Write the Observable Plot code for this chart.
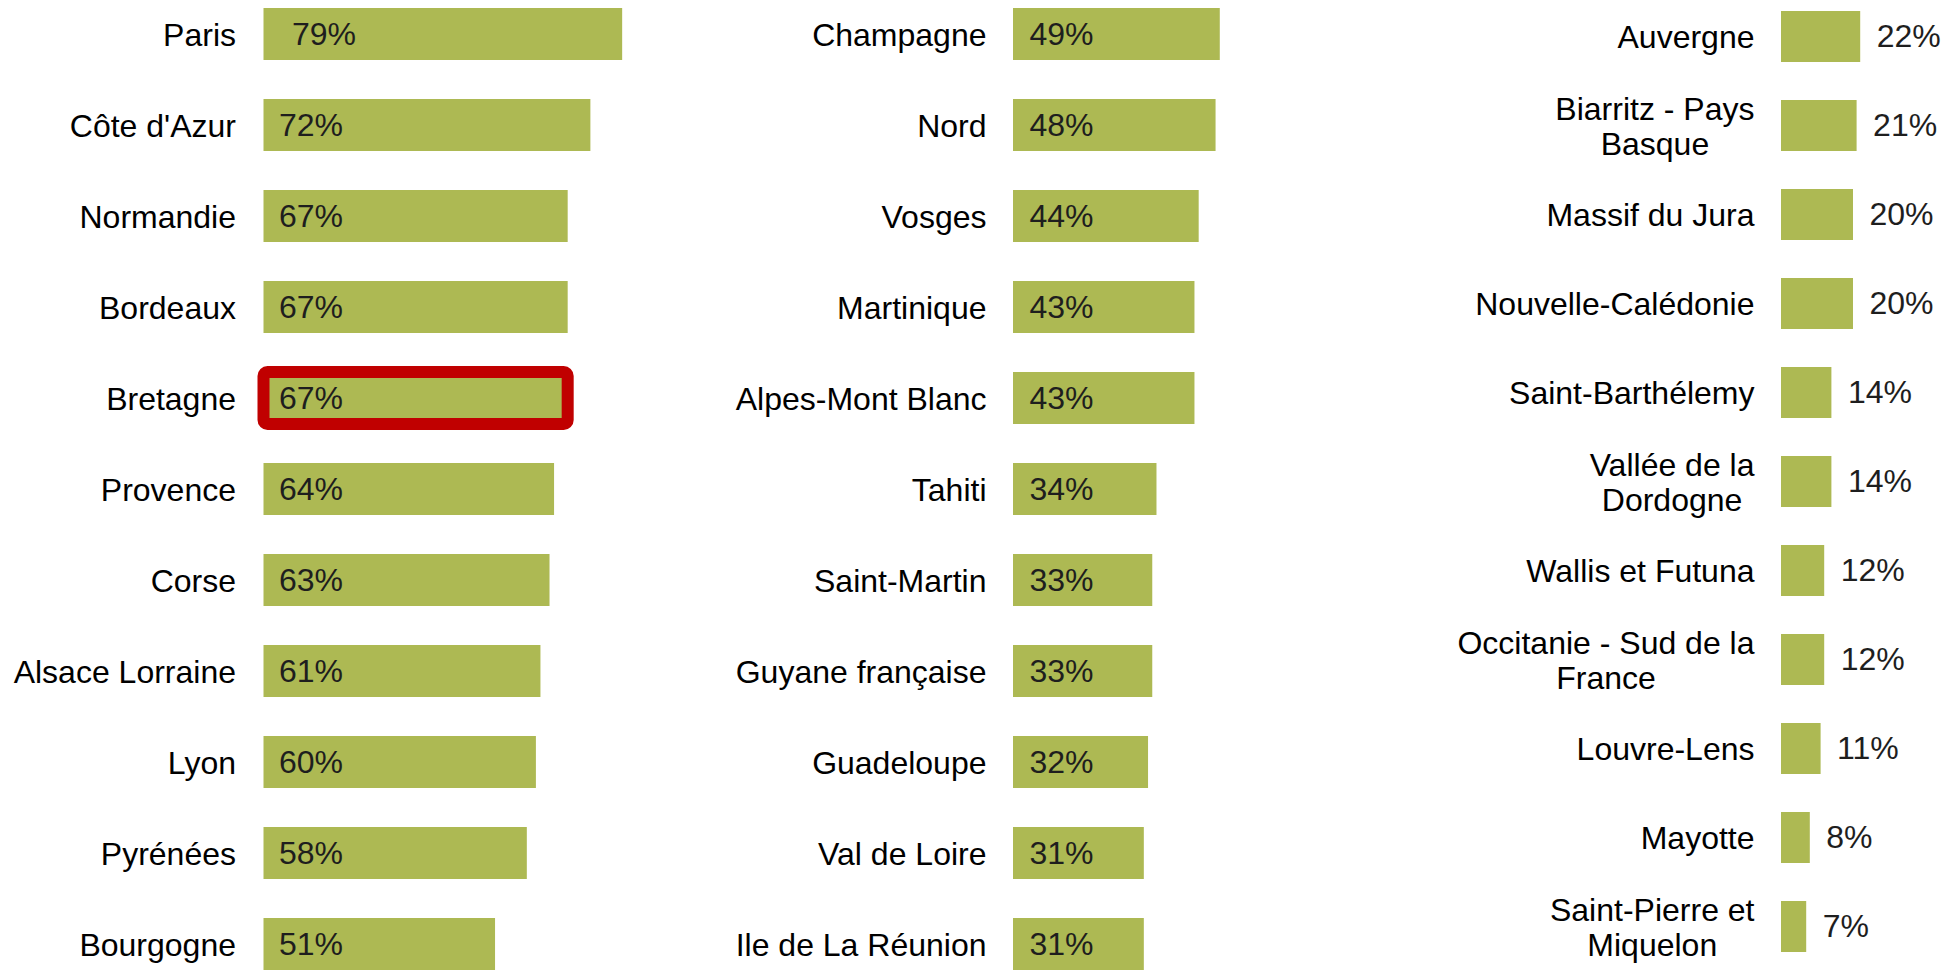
<!DOCTYPE html>
<html>
<head>
<meta charset="utf-8">
<script src="https://cdn.jsdelivr.net/npm/d3@7"></script>
<script src="https://cdn.jsdelivr.net/npm/@observablehq/plot@0.6"></script>
<style>
html, body { margin: 0; padding: 0; background: #fff; }
#chart { position: relative; width: 1949px; height: 971px; overflow: hidden; }
#chart svg { position: absolute; left: 0; top: 0; }
</style>
</head>
<body>
<div id="chart"></div>
<script>
// ---- data ----
const col1Names = ["Paris", "Côte d'Azur", "Normandie", "Bordeaux", "Bretagne", "Provence", "Corse", "Alsace Lorraine", "Lyon", "Pyrénées", "Bourgogne"];
const col1Values = [79, 72, 67, 67, 67, 64, 63, 61, 60, 58, 51];

const col2Names = ["Champagne", "Nord", "Vosges", "Martinique", "Alpes-Mont Blanc", "Tahiti", "Saint-Martin", "Guyane française", "Guadeloupe", "Val de Loire", "Ile de La Réunion"];
const col2Values = [49, 48, 44, 43, 43, 34, 33, 33, 32, 31, 31];

const col3Names = ["Auvergne", "Biarritz - Pays\nBasque", "Massif du Jura", "Nouvelle-Calédonie", "Saint-Barthélemy", "Vallée de la\nDordogne", "Wallis et Futuna", "Occitanie - Sud de la\nFrance", "Louvre-Lens", "Mayotte", "Saint-Pierre et\nMiquelon"];
const col3Values = [22, 21, 20, 20, 14, 14, 12, 12, 11, 8, 7];

const highlighted = "Bretagne";
const shiftedLabel = "Paris";

// ---- style ----
const BAR = "#adb953";
const RED = "#c00000";
const FONT = "'Liberation Sans', Arial, Helvetica, sans-serif";
const container = document.getElementById("chart");

function column({names, values, x0, k, yTop, step, inside, labelGap, valueGap}) {
  const data = names.map((name, i) => ({name, value: values[i]}));
  const pad = 0.43;
  const n = names.length;
  const y0 = yTop - pad * step;
  const marks = [
    Plot.barX(data, {x: "value", y: "name", fill: BAR}),
    Plot.barX(data.filter(d => d.name === highlighted), {
      x: "value", y: "name", fill: "none", stroke: RED, strokeWidth: 12, rx: 4
    }),
    Plot.text(data, {
      x: 0, y: "name", text: "name", textAnchor: "end", dx: -labelGap,
      fill: "#000", fontSize: 32, lineHeight: 1.1
    })
  ];
  if (inside) {
    marks.push(Plot.text(data.filter(d => d.name !== shiftedLabel), {
      x: 0, y: "name", text: d => d.value + "%", textAnchor: "start", dx: valueGap,
      fill: "#1e1e1e", fontSize: 32
    }));
    marks.push(Plot.text(data.filter(d => d.name === shiftedLabel), {
      x: 0, y: "name", text: d => d.value + "%", textAnchor: "start", dx: valueGap + 13,
      fill: "#1e1e1e", fontSize: 32
    }));
  } else {
    marks.push(Plot.text(data, {
      x: "value", y: "name", text: d => d.value + "%", textAnchor: "start", dx: valueGap,
      fill: "#1e1e1e", fontSize: 32
    }));
  }
  const svg = Plot.plot({
    width: 1949, height: 971, margin: 0,
    style: {background: "transparent", fontFamily: FONT, fontSize: "32px", overflow: "visible"},
    x: {domain: [0, 100], range: [x0, x0 + k * 100], axis: null},
    y: {domain: names, range: [y0, y0 + step * (n + pad)], padding: pad, axis: null},
    marks
  });
  container.appendChild(svg);
  // center the lines of wrapped labels inside their right-aligned block
  svg.querySelectorAll("text").forEach(t => {
    const spans = t.querySelectorAll("tspan");
    if (spans.length < 2) return;
    let w = 0;
    spans.forEach(s => { w = Math.max(w, s.getComputedTextLength()); });
    t.setAttribute("text-anchor", "middle");
    t.style.textAnchor = "middle";
    const tr = t.getAttribute("transform") || "";
    t.setAttribute("transform", tr + ` translate(${-w / 2},0)`);
  });
}

column({names: col1Names, values: col1Values, x0: 263.5, k: 4.54, yTop: 6.2, step: 91.4, inside: true, labelGap: 28, valueGap: 15});
column({names: col2Names, values: col2Values, x0: 1013, k: 4.22, yTop: 6.2, step: 91.4, inside: true, labelGap: 27, valueGap: 16});
column({names: col3Names, values: col3Values, x0: 1781, k: 3.6, yTop: 8.7, step: 89.5, inside: false, labelGap: 27, valueGap: 16});
</script>
</body>
</html>
